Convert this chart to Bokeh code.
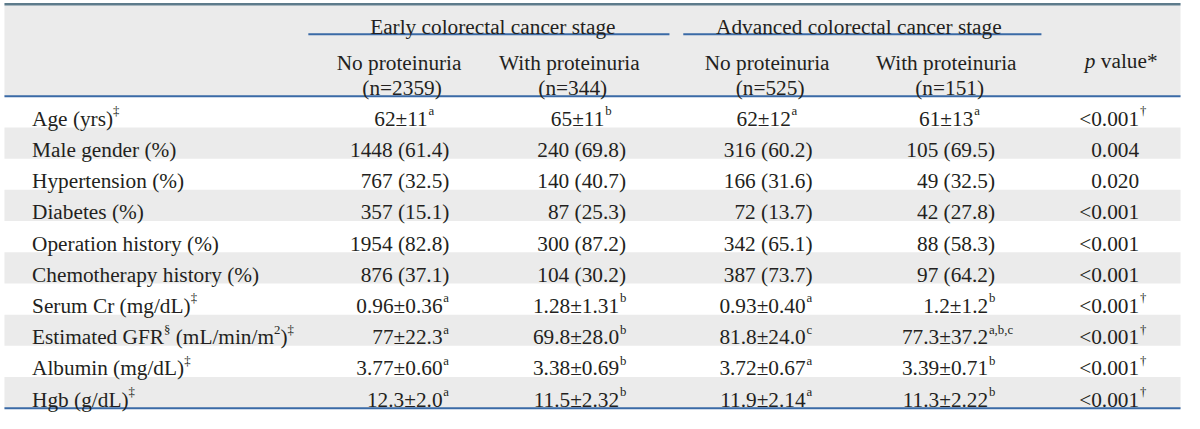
import re
from bokeh.plotting import figure
from bokeh.models import Range1d, ColumnDataSource
from bokeh.core.properties import value
from bokeh.embed import file_html
from bokeh.resources import INLINE

# ---------------- data ----------------
groups = ["Early colorectal cancer stage", "Advanced colorectal cancer stage"]
subgroups = ["No proteinuria", "With proteinuria", "No proteinuria", "With proteinuria"]
n_counts = [2359, 344, 525, 151]
p_header = ["p", " value*"]

labels = ["Age (yrs)^{‡}", "Male gender (%)", "Hypertension (%)", "Diabetes (%)",
          "Operation history (%)", "Chemotherapy history (%)", "Serum Cr (mg/dL)^{‡}",
          "Estimated GFR^{§} (mL/min/m^{2})^{‡}", "Albumin (mg/dL)^{‡}", "Hgb (g/dL)^{‡}"]
early_no = ["62±11^{a}", "1448 (61.4)", "767 (32.5)", "357 (15.1)", "1954 (82.8)",
            "876 (37.1)", "0.96±0.36^{a}", "77±22.3^{a}", "3.77±0.60^{a}", "12.3±2.0^{a}"]
early_with = ["65±11^{b}", "240 (69.8)", "140 (40.7)", "87 (25.3)", "300 (87.2)",
              "104 (30.2)", "1.28±1.31^{b}", "69.8±28.0^{b}", "3.38±0.69^{b}", "11.5±2.32^{b}"]
adv_no = ["62±12^{a}", "316 (60.2)", "166 (31.6)", "72 (13.7)", "342 (65.1)",
          "387 (73.7)", "0.93±0.40^{a}", "81.8±24.0^{c}", "3.72±0.67^{a}", "11.9±2.14^{a}"]
adv_with = ["61±13^{a}", "105 (69.5)", "49 (32.5)", "42 (27.8)", "88 (58.3)",
            "97 (64.2)", "1.2±1.2^{b}", "77.3±37.2^{a,b,c}", "3.39±0.71^{b}", "11.3±2.22^{b}"]
p_values = ["<0.001^{†}", "0.004", "0.020", "<0.001", "<0.001", "<0.001",
            "<0.001^{†}", "<0.001^{†}", "<0.001^{†}", "<0.001^{†}"]

# ---------------- layout / style ----------------
FONT = "Liberation Serif"
K = 1184 / 1200.0            # screen px per layout unit
MAIN = round(21.6 * K, 1)
SUP = round(13.0 * K, 1)
TXT = "#231f20"
BLUE = "#3a6aa6"
TOP = "#5d7b8b"
GRAY = "#ebebeb"

L, R = 4, 1196
HDR_TOP, HDR_BOT = 5, 99.5
ROW_H = (423.5 - HDR_BOT) / len(labels)

W = {' ': 250, '(': 333, ')': 333, '%': 833, '.': 250, '/': 278, '±': 564, '<': 564,
     '=': 564, '*': 500, ',': 250, '†': 500, '‡': 500, '§': 500,
     'A': 722, 'C': 667, 'D': 722, 'E': 611, 'F': 556, 'G': 722, 'H': 722, 'L': 611,
     'M': 889, 'N': 722, 'O': 722, 'R': 667, 'S': 556, 'W': 944,
     'a': 444, 'b': 500, 'c': 444, 'd': 500, 'e': 444, 'f': 333, 'g': 500, 'h': 500,
     'i': 278, 'k': 500, 'l': 278, 'm': 778, 'n': 500, 'o': 500, 'p': 500, 'r': 333,
     's': 389, 't': 278, 'u': 500, 'v': 500, 'w': 722, 'x': 500, 'y': 500, 'z': 444}


def tw(t, size):
    # width in layout units
    return sum(W.get(c, 500) for c in t) * size / 1000.0 / K


def parse(s):
    parts = re.split(r'\^\{([^}]*)\}', s)
    out = []
    for i, t in enumerate(parts):
        if t:
            out.append((t, i % 2 == 1))
    return out


buckets = {}


def add(x, y, t, align="left", size=MAIN, style="normal"):
    key = (align, size, style)
    b = buckets.setdefault(key, {"x": [], "y": [], "t": []})
    b["x"].append(x)
    b["y"].append(y)
    b["t"].append(t)


def seg_left(cur, y, t, size, style="normal"):
    lead = len(t) - len(t.lstrip())
    trail = len(t) - len(t.rstrip())
    cur += tw(" ", size) * lead
    core = t.strip()
    if core:
        add(cur, y, core, "left", size, style)
    return cur + tw(core, size) + tw(" ", size) * trail


def rich_left(s, x, base):
    cur = x
    for t, sup in parse(s):
        size = SUP if sup else MAIN
        cur = seg_left(cur, base - 8 if sup else base, t, size)


def rich_center(s, cx, base):
    segs = parse(s)
    total = sum(tw(t, SUP if sup else MAIN) for t, sup in segs)
    rich_left(s, cx - total / 2.0, base)


def rich_right(s, x, base, sup_inside=True):
    segs = parse(s)
    main = "".join(t for t, sup in segs if not sup)
    sups = [t for t, sup in segs if sup]
    if sups:
        xr = x - 7 if sup_inside else x
        add(xr, base, main, "right")
        add(xr + 0.8, base - 8, sups[0], "left", SUP)
    else:
        add(x, base, main, "right")


p = figure(width=1184, height=413, x_range=Range1d(0, 1200), y_range=Range1d(429, 0),
           output_backend="svg", toolbar_location=None, min_border=0)
p.axis.visible = False
p.grid.visible = False
p.outline_line_color = None
p.background_fill_color = "white"
p.border_fill_color = "white"

# header background and stripes
stripe_top = [HDR_TOP] + [HDR_BOT + i * ROW_H for i in range(len(labels)) if i % 2 == 1]
stripe_bot = [HDR_BOT] + [HDR_BOT + (i + 1) * ROW_H for i in range(len(labels)) if i % 2 == 1]
p.quad(left=L, right=R, top=stripe_top, bottom=stripe_bot, fill_color=GRAY, line_color=None)

# rules
p.segment(x0=[L], x1=[R], y0=[4], y1=[4], line_color=TOP, line_width=2.5)
p.segment(x0=[L, L], x1=[R, R], y0=[HDR_BOT, 423.5], y1=[HDR_BOT, 423.5],
          line_color=BLUE, line_width=2)
p.segment(x0=[312, 692], x1=[678, 1055], y0=[35, 35], y1=[35, 35],
          line_color=BLUE, line_width=2)

# header texts
group_centers = [499, 870]
for g, cx in zip(groups, group_centers):
    rich_center(g, cx, 28)
col_centers = [404, 577, 777, 959]
for sg, n, cx in zip(subgroups, n_counts, col_centers):
    rich_center(sg, cx, 65)
    rich_center("(n=%d)" % n, cx + 3, 91)
hx = seg_left(1099, 63, p_header[0], MAIN, "italic")
seg_left(hx, 63, p_header[1], MAIN)

# body
edges = [455, 634, 823, 1008]
cols = [early_no, early_with, adv_no, adv_with]
for i, lab in enumerate(labels):
    base = HDR_BOT + i * ROW_H + 23.5
    rich_left(lab, 32, base)
    shift = -15 if i == 0 else 0
    for col, e in zip(cols, edges):
        rich_right(col[i], e + shift, base)
    rich_right(p_values[i], 1154, base, sup_inside=False)

for (align, size, style), b in buckets.items():
    src = ColumnDataSource(dict(x=b["x"], y=b["y"], t=b["t"]))
    p.text(x="x", y="y", text="t", source=src, text_align=align,
           text_baseline="alphabetic", text_font=value(FONT),
           text_font_size="%spx" % size, text_font_style=style, text_color=TXT)

open("out.html", "w").write(file_html(p, INLINE))
